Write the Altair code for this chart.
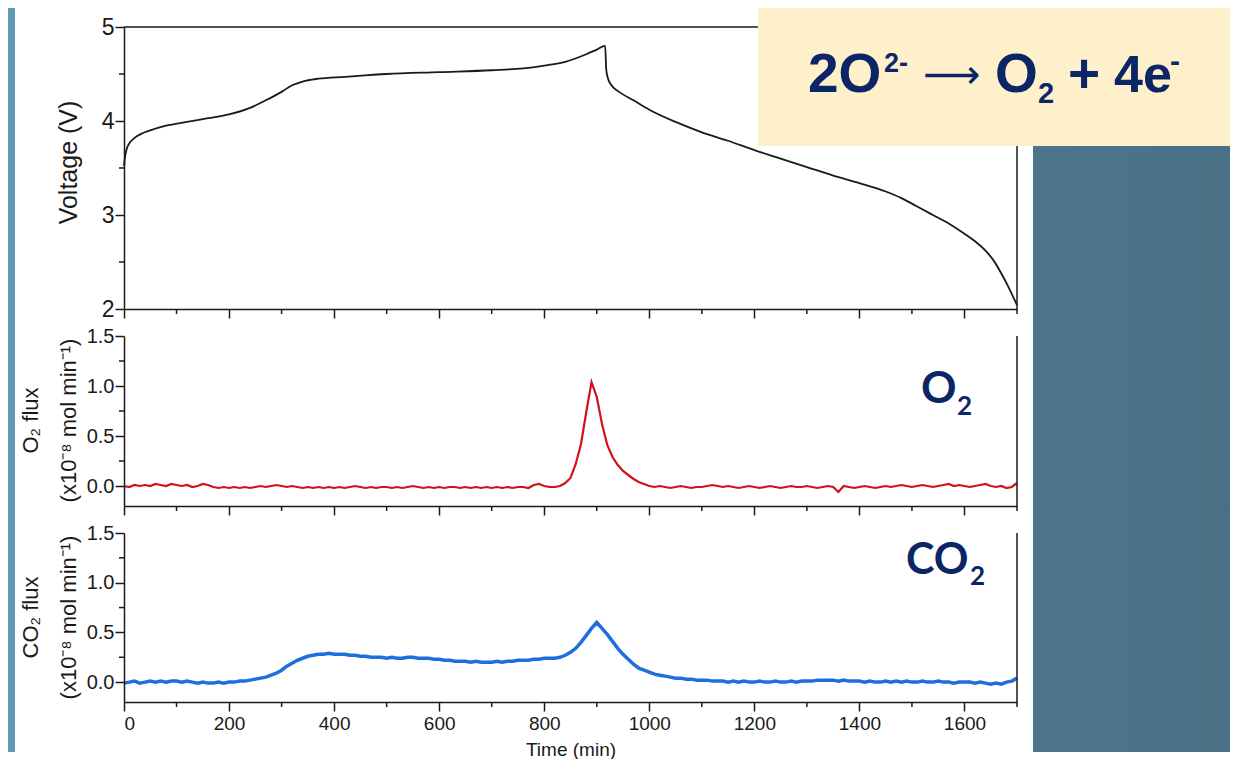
import altair as alt
import pandas as pd

# ---------------- data ----------------
VOLT_T = [0, 2, 5, 10, 20, 35, 50, 80, 120, 160,
          200, 240, 270, 300, 320, 340, 370, 420, 500, 600,
          700, 760, 800, 840, 880, 900, 916, 918, 921, 928,
          940, 970, 1000, 1050, 1100, 1150, 1200, 1250, 1300, 1350,
          1400, 1450, 1480, 1510, 1540, 1570, 1600, 1620, 1640, 1655,
          1670, 1685, 1700]
VOLT_V = [3.52, 3.62, 3.70, 3.76, 3.82, 3.87, 3.90, 3.95, 3.99, 4.03,
          4.07, 4.14, 4.22, 4.31, 4.38, 4.42, 4.45, 4.47, 4.50, 4.52,
          4.54, 4.56, 4.59, 4.63, 4.71, 4.76, 4.80, 4.55, 4.46, 4.38,
          4.32, 4.22, 4.12, 3.99, 3.88, 3.79, 3.69, 3.60, 3.51, 3.42,
          3.34, 3.25, 3.18, 3.09, 3.00, 2.91, 2.80, 2.72, 2.62, 2.52,
          2.38, 2.22, 2.04]

FLUX_T = list(range(0, 1701, 10))
O2_FLUX = [0.00, -0.01, 0.01, 0.00, 0.01, 0.00, 0.02, 0.01, 0.00, 0.02, 0.01,
           0.00, 0.01, -0.01, 0.00, 0.02, 0.01, -0.01, -0.02, -0.01, -0.02,
           -0.01, -0.02, -0.01, -0.02, -0.01, 0.00, -0.01, 0.00, 0.01, 0.00,
           -0.01, 0.00, -0.01, -0.02, -0.01, -0.02, -0.01, -0.02, -0.01, -0.02,
           -0.01, -0.02, -0.01, 0.00, -0.01, -0.02, -0.01, -0.02, -0.01, -0.01,
           -0.02, -0.01, -0.02, -0.01, 0.00, -0.01, -0.02, -0.01, -0.02, -0.01,
           -0.02, -0.01, -0.01, -0.02, -0.01, -0.02, -0.01, -0.02, -0.01, -0.02,
           -0.01, -0.02, -0.01, -0.02, -0.01, -0.01, -0.02, 0.01, 0.02, 0.00,
           -0.01, -0.01, 0.00, 0.03, 0.08, 0.22, 0.42, 0.74, 1.04, 0.89,
           0.62, 0.41, 0.29, 0.21, 0.15, 0.11, 0.07, 0.04, 0.02, 0.00,
           -0.01, 0.00, -0.01, -0.02, -0.01, 0.00, -0.01, -0.02, -0.01, -0.01,
           0.00, 0.01, 0.00, -0.01, 0.00, -0.01, -0.02, -0.01, 0.00, -0.01,
           -0.02, -0.01, 0.00, -0.01, -0.02, -0.01, 0.00, -0.01, -0.01, 0.00,
           -0.01, -0.02, -0.01, 0.00, -0.01, -0.06, 0.00, -0.01, -0.02, -0.01,
           0.00, -0.01, -0.02, -0.01, 0.00, -0.01, 0.00, 0.01, 0.00, -0.01,
           0.00, 0.01, 0.00, -0.01, 0.00, 0.01, 0.02, 0.00, 0.01, 0.00,
           -0.01, 0.00, 0.01, 0.02, 0.00, -0.01, 0.00, -0.02, -0.01, 0.03]
CO2_FLUX = [-0.01, 0.00, 0.01, -0.01, 0.00, 0.01, 0.00, 0.01, 0.00, 0.01, 0.01,
            0.00, 0.01, 0.00, -0.01, 0.00, -0.01, -0.01, 0.00, -0.01, 0.00,
            0.00, 0.01, 0.01, 0.02, 0.03, 0.04, 0.05, 0.07, 0.09, 0.12,
            0.16, 0.19, 0.22, 0.24, 0.26, 0.27, 0.28, 0.28, 0.29, 0.28,
            0.28, 0.28, 0.27, 0.27, 0.26, 0.26, 0.25, 0.25, 0.25, 0.24,
            0.25, 0.24, 0.24, 0.25, 0.25, 0.24, 0.24, 0.24, 0.23, 0.23,
            0.22, 0.22, 0.21, 0.21, 0.21, 0.20, 0.21, 0.20, 0.20, 0.20,
            0.21, 0.20, 0.21, 0.21, 0.22, 0.22, 0.22, 0.23, 0.23, 0.24,
            0.24, 0.24, 0.25, 0.27, 0.30, 0.34, 0.40, 0.47, 0.54, 0.60,
            0.54, 0.48, 0.41, 0.34, 0.28, 0.23, 0.18, 0.14, 0.12, 0.10,
            0.08, 0.07, 0.06, 0.05, 0.04, 0.04, 0.03, 0.03, 0.02, 0.02,
            0.02, 0.01, 0.01, 0.01, 0.00, 0.01, 0.00, 0.01, 0.00, 0.00,
            0.01, 0.00, 0.00, 0.01, 0.00, 0.00, 0.01, 0.00, 0.01, 0.01,
            0.01, 0.02, 0.02, 0.02, 0.02, 0.01, 0.02, 0.01, 0.01, 0.01,
            0.00, 0.01, 0.00, 0.00, 0.01, 0.00, 0.01, 0.00, 0.01, 0.00,
            0.00, 0.01, 0.00, 0.00, 0.01, 0.00, 0.00, -0.01, 0.00, 0.00,
            0.00, -0.01, 0.00, -0.01, -0.02, -0.01, -0.02, 0.00, 0.01, 0.04]

X_MAJOR = [0, 200, 400, 600, 800, 1000, 1200, 1400, 1600]
X_MINOR = [100, 300, 500, 700, 900, 1100, 1300, 1500, 1700]
V_MAJOR = [2, 3, 4, 5]
V_MINOR = [2.5, 3.5, 4.5]
F_MAJOR = [0.0, 0.5, 1.0, 1.5]
F_MINOR = [0.25, 0.75, 1.25]

# ---------------- styling ----------------
W = 893
H1, H2, H3 = 282, 170, 169
SP = 27
AX = "#1a1a1a"
NAVY = "#0b2566"
FONT = "Liberation Sans"
CALI = "Lato"

GRAD = alt.LinearGradient(
    gradient="linear",
    stops=[alt.GradientStop(color="#5f9cb1", offset=0),
           alt.GradientStop(color="#517d93", offset=0.55),
           alt.GradientStop(color="#4a7086", offset=1)],
    x1=0, x2=1, y1=0, y2=0)

one = pd.DataFrame({"k": [0]})
volt = pd.DataFrame({"t": VOLT_T, "v": VOLT_V})
o2 = pd.DataFrame({"t": FLUX_T, "f": O2_FLUX})
co2 = pd.DataFrame({"t": FLUX_T, "f": CO2_FLUX})

xs = alt.Scale(domain=[0, 1700], nice=False, zero=False)
vs = alt.Scale(domain=[2, 5], nice=False, zero=False)
fs = alt.Scale(domain=[-0.2, 1.5], nice=False, zero=False)


def x_axis(labels, title=None):
    kw = dict(values=X_MAJOR, format="d", labels=labels, tickSize=9, tickWidth=1.5, tickColor=AX,
              domainColor=AX, domainWidth=1.5, labelFont=FONT, labelFontSize=19,
              labelColor=AX, labelPadding=3, grid=False, zindex=1, title=title)
    if title:
        kw.update(titleFont=FONT, titleFontSize=19, titleFontWeight="normal",
                  titleColor=AX, titleY=38, titleBaseline="top")
    return alt.Axis(**kw)


def y_axis(values, fmt, title, lsize, tsize, tx, ty, lh=None):
    kw = dict(values=values, format=fmt, title=title, tickSize=9, tickWidth=1.5,
              tickColor=AX, domainColor=AX, domainWidth=1.5, labelFont=FONT,
              labelFontSize=lsize, labelColor=AX, labelPadding=1, titleFont=FONT,
              titleFontSize=tsize, titleFontWeight="normal", titleColor=AX,
              titleX=tx, titleY=ty, titleAngle=270, titleAlign="center",
              titleBaseline="middle", grid=False, zindex=1)
    if lh:
        kw["titleLineHeight"] = lh
    return alt.Axis(**kw)


def box(x, x2, y, y2, fill):
    return alt.Chart(one).mark_rect(color=fill).encode(
        x=alt.value(x), x2=alt.value(x2), y=alt.value(y), y2=alt.value(y2))


def frame(x, x2, y, y2, width=1.5):
    return alt.Chart(one).mark_rule(color=AX, strokeWidth=width).encode(
        x=alt.value(x), x2=alt.value(x2), y=alt.value(y), y2=alt.value(y2))


def minor_x(h, xax):
    return alt.Chart(pd.DataFrame({"t": X_MINOR})).mark_rule(color=AX, strokeWidth=1.5).encode(
        x=alt.X("t:Q", scale=xs, axis=xax), y=alt.value(h), y2=alt.value(h + 5))


def minor_y(vals, scale, field, yax):
    return alt.Chart(pd.DataFrame({field: vals})).mark_rule(color=AX, strokeWidth=1.5).encode(
        y=alt.Y(field + ":Q", scale=scale, axis=yax), x=alt.value(-5), x2=alt.value(0))


def txt(s, x, y, size, font=FONT, weight="bold", align="left", baseline="alphabetic", color=NAVY):
    return alt.Chart(one).mark_text(text=s, font=font, fontSize=size, fontWeight=weight,
                                    align=align, baseline=baseline, color=color).encode(
        x=alt.value(x), y=alt.value(y))


FLUX_UNIT = "(x10\u207b\u2078 mol min\u207b\u00b9)"

# ---------------- panel 1: voltage ----------------
xa1 = x_axis(False)
ya1 = y_axis(V_MAJOR, "d", "Voltage (V)", 23, 25, -56, 135)
vline = alt.Chart(volt).mark_line(color="#1a1a1a", strokeWidth=1.8, interpolate="monotone").encode(
    x=alt.X("t:Q", scale=xs, axis=xa1),
    y=alt.Y("v:Q", scale=vs, axis=ya1))

p1 = alt.layer(
    box(-116, 1106, -19, 725, GRAD),
    box(-109, 909, -19, 725, "white"),
    vline,
    minor_x(H1, xa1),
    minor_y(V_MINOR, vs, "v", ya1),
    frame(0, W, 0, 0),
    frame(W, W, 0, H1),
    box(634, 1106, -19, 119, "#fff0cc"),
    txt("2O", 684, 65, 55),
    txt("2-", 760, 45, 27),
    txt("\u27f6", 828, 61, 40, font="DejaVu Sans", weight="normal", align="center"),
    txt("O", 871, 65, 55),
    txt("2", 914, 76, 29),
    txt("+", 944, 65, 55),
    txt("4e", 990, 65, 52),
    txt("-", 1046, 44, 30),
).properties(width=W, height=H1)

# ---------------- panel 2: O2 flux ----------------
xa2 = x_axis(False)
ya2 = y_axis(F_MAJOR, ".1f", ["O\u2082 flux", FLUX_UNIT], 20, 22, -94, 84, 38)
oline = alt.Chart(o2).mark_line(color="#d0121c", strokeWidth=2.2).encode(
    x=alt.X("t:Q", scale=xs, axis=xa2),
    y=alt.Y("f:Q", scale=fs, axis=ya2))
p2 = alt.layer(
    oline,
    minor_x(H2, xa2),
    minor_y(F_MINOR, fs, "f", ya2),
    frame(W, W, 0, H2),
    txt("O", 797, 67, 44, font=CALI),
    txt("2", 833, 79, 26, font=CALI),
).properties(width=W, height=H2)

# ---------------- panel 3: CO2 flux ----------------
xa3 = x_axis(True, "Time (min)")
ya3 = y_axis(F_MAJOR, ".1f", ["CO\u2082 flux", FLUX_UNIT], 20, 22, -94, 84, 38)
cline = alt.Chart(co2).mark_line(color="#1e6fdc", strokeWidth=3.5).encode(
    x=alt.X("t:Q", scale=xs, axis=xa3),
    y=alt.Y("f:Q", scale=fs, axis=ya3))
p3 = alt.layer(
    cline,
    minor_x(H3, xa3),
    minor_y(F_MINOR, fs, "f", ya3),
    frame(W, W, 0, H3),
    txt("CO", 782, 41, 43, font=CALI),
    txt("2", 846, 52, 26, font=CALI),
).properties(width=W, height=H3)

chart = alt.vconcat(p1, p2, p3, spacing=SP, bounds="flush").properties(
    padding=0, background="white"
).configure_view(strokeWidth=0)

chart.save("out.html", embed_options={"renderer": "svg", "actions": False})
